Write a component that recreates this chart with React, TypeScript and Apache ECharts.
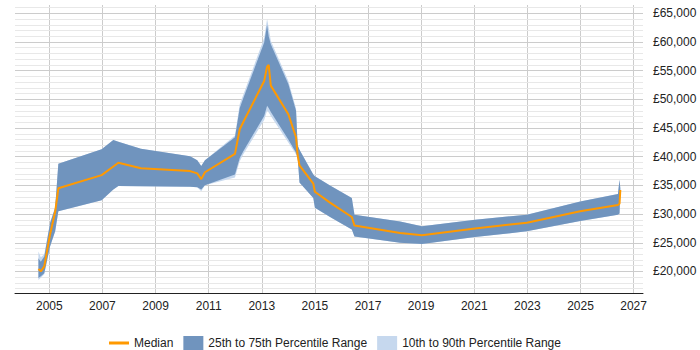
import React, { useEffect, useRef } from "react";
import * as echarts from "echarts";

const years = [2004.59, 2004.68, 2004.81, 2005.03, 2005.22, 2005.34, 2006.97, 2007.41, 2007.6, 2008.45, 2010.3, 2010.57, 2010.72, 2010.86, 2011.99, 2012.17, 2012.31, 2013.09, 2013.2, 2013.26, 2013.34, 2014.0, 2014.29, 2014.35, 2014.42, 2014.94, 2015.0, 2015.57, 2016.39, 2016.49, 2018.21, 2019.03, 2021.03, 2022.98, 2024.99, 2026.41, 2026.47, 2026.5];

const median = [20420, 20020, 20900, 26500, 30400, 34500, 36800, 38300, 38950, 38000, 37500, 37100, 36100, 37300, 40500, 44800, 46100, 53200, 55700, 56000, 52400, 47400, 43400, 40300, 38500, 35300, 33900, 32000, 29500, 28000, 26700, 26300, 27500, 28500, 30500, 31600, 31800, 34200];

const p25 = [18850, 19150, 19700, 24400, 27000, 30500, 32400, 34300, 34900, 34850, 34750, 34700, 34300, 35050, 36900, 39800, 41000, 47100, 48900, 48500, 47800, 43000, 40700, 39900, 35500, 32800, 31100, 29500, 27300, 26100, 25000, 24800, 26000, 27000, 28800, 29900, 30100, 33800];

const p75 = [22300, 21700, 22600, 28500, 31100, 38800, 41300, 42900, 42600, 41400, 40100, 39400, 38400, 39400, 43400, 48500, 50300, 59900, 63000, 61000, 59600, 52700, 48000, 42000, 41200, 36900, 36600, 35000, 32800, 29900, 28700, 27900, 29000, 29900, 32200, 33500, 36000, 34500];

const p10 = [18500, 18900, 19500, 24400, 27000, 30500, 32400, 34300, 34900, 34850, 34750, 34700, 34000, 35050, 36400, 39200, 40500, 46400, 48000, 47700, 47100, 42500, 40400, 39900, 35500, 32800, 31100, 29500, 27300, 26100, 25000, 24800, 26000, 27000, 28800, 29900, 30100, 33800];

const p90 = [23500, 22500, 23000, 28500, 31100, 38800, 41300, 42900, 42600, 41400, 40100, 39400, 38400, 39400, 43700, 49200, 50900, 60700, 64000, 62500, 60200, 53200, 48400, 42000, 41200, 36900, 36600, 35000, 32800, 29900, 28700, 27900, 29000, 29900, 32200, 33500, 36000, 34500];

const xLabels = [2005, 2007, 2009, 2011, 2013, 2015, 2017, 2019, 2021, 2023, 2025, 2027];
const yLabels = [20000, 25000, 30000, 35000, 40000, 45000, 50000, 55000, 60000, 65000];
const yMinor = [17000, 18000, 19000, 21000, 22000, 23000, 24000, 26000, 27000, 28000, 29000, 31000, 32000, 33000, 34000, 36000, 37000, 38000, 39000, 41000, 42000, 43000, 44000, 46000, 47000, 48000, 49000, 51000, 52000, 53000, 54000, 56000, 57000, 58000, 59000, 61000, 62000, 63000, 64000, 66000];

const NAME_MED = "Median";
const NAME_IQR = "25th to 75th Percentile Range";
const NAME_DEC = "10th to 90th Percentile Range";

const DARK = "#7094be";
const LIGHT = "#c6d8ee";
const ORANGE = "#ff9900";
const FONT = "Liberation Sans, Arial, sans-serif";
const Y_MIN = 16250;
const Y_MAX = 66450;

export default function App() {
  const ref = useRef<HTMLDivElement>(null);
  useEffect(() => {
    if (!ref.current) return;
    const chart = echarts.init(ref.current, null, { renderer: "svg" });
    const band = (name: string, upper: number[], lower: number[], color: string) => ({
      name,
      type: "custom",
      silent: true,
      itemStyle: { color },
      data: [[years[0], upper[0]]],
      renderItem: (_params: any, api: any) => {
        const pts: number[][] = [];
        for (let i = 0; i < years.length; i++) pts.push(api.coord([years[i], upper[i]]));
        for (let i = years.length - 1; i >= 0; i--) pts.push(api.coord([years[i], lower[i]]));
        return { type: "polygon", shape: { points: pts }, style: { fill: color, stroke: null } };
      },
    });
    chart.setOption({
      animation: false,
      textStyle: { fontFamily: FONT },
      grid: { left: 15, right: 57, top: 5, bottom: 57, containLabel: false },
      legend: {
        left: 104,
        top: 331,
        itemWidth: 20,
        itemHeight: 14,
        itemGap: 10,
        textStyle: { fontSize: 12, color: "#222", fontFamily: FONT },
        data: [
          { name: NAME_MED, icon: "path://M0,0 L0,0 M0,5.5 L20,5.5 L20,8.5 L0,8.5 Z M0,14 L0,14 M20,14 L20,14" },
          { name: NAME_IQR, icon: "rect" },
          { name: NAME_DEC, icon: "rect" },
        ],
      },
      xAxis: {
        type: "value",
        min: 2003.708,
        max: 2027.354,
        axisLine: { show: true, onZero: false, lineStyle: { color: "#222", width: 1 } },
        axisTick: { show: false, customValues: xLabels },
        axisLabel: {
          customValues: xLabels,
          formatter: (v: number) => String(v),
          fontSize: 12,
          color: "#222",
          margin: 7,
          fontFamily: FONT,
        },
        splitLine: { show: true, lineStyle: { color: "#cccccc", width: 1 } },
      },
      yAxis: [
        {
          type: "value",
          position: "right",
          min: Y_MIN,
          max: Y_MAX,
          z: 1,
          axisLine: { show: false },
          axisTick: { show: false, customValues: yMinor },
          axisLabel: { show: false },
          splitLine: { show: true, lineStyle: { color: "#e8e8e8", width: 1 } },
        },
        {
          type: "value",
          position: "right",
          min: Y_MIN,
          max: Y_MAX,
          z: 2,
          axisLine: { show: false },
          axisTick: { show: false, customValues: yLabels },
          axisLabel: {
            customValues: yLabels,
            formatter: (v: number) => "£" + v.toLocaleString("en-GB"),
            fontSize: 12,
            color: "#222",
            margin: 10,
            fontFamily: FONT,
          },
          splitLine: { show: true, lineStyle: { color: "#cccccc", width: 1 } },
        },
      ],
      series: [
        band(NAME_DEC, p90, p10, LIGHT),
        band(NAME_IQR, p75, p25, DARK),
        {
          name: NAME_MED,
          type: "line",
          data: years.map((y, i) => [y, median[i]]),
          symbol: "none",
          silent: true,
          color: ORANGE,
          itemStyle: { color: ORANGE },
          lineStyle: { color: ORANGE, width: 2 },
        },
      ],
    });
    return () => chart.dispose();
  }, []);
  return <div ref={ref} style={{ width: 700, height: 350, position: "absolute", left: 0, top: 0 }} />;
}
